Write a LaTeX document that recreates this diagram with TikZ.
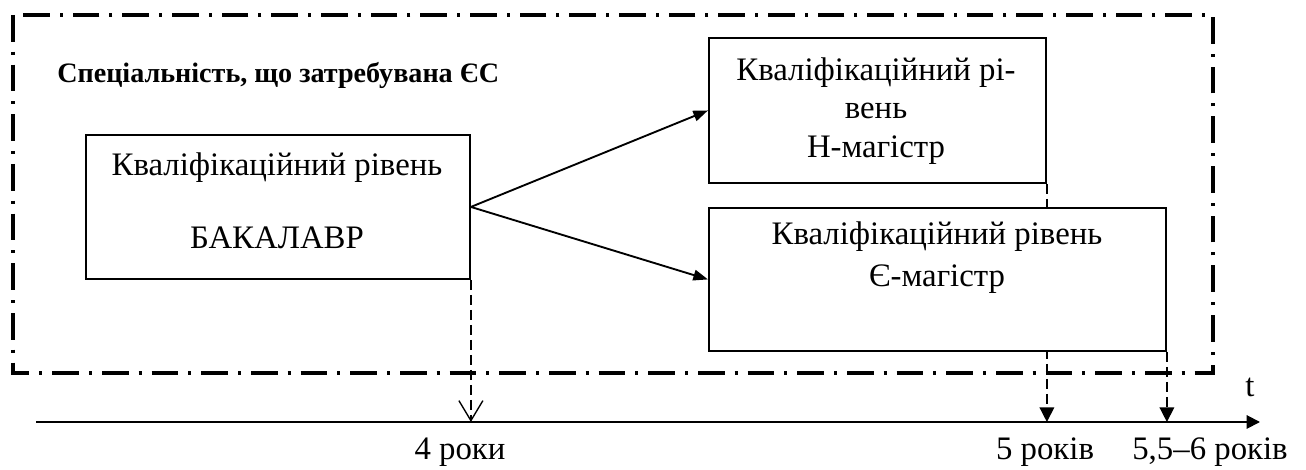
\documentclass[tikz,border=0pt]{standalone}
\usepackage{fontspec}
\setmainfont{Liberation Serif}
\usetikzlibrary{arrows.meta}

\begin{document}
\begin{tikzpicture}[x=0.015cm, y=-0.015cm,
		font=\fontsize{14pt}{16pt}\selectfont,
		box/.style={draw, line width=0.8pt, fill=white, inner sep=0pt, anchor=north west},
		frame/.style={line width=1.4pt, dash pattern=on 0.4cm off 0.15cm on 0.045cm off 0.15cm},
		drop/.style={line width=0.6pt, dash pattern=on 0.15cm off 0.075cm},
		link/.style={line width=0.8pt, -{Triangle[length=0.22cm, width=0.16cm]}}]
		\useasboundingbox (0,0) rectangle (1306,470);
		% Frame of the speciality
		\draw[frame] (13,15) rectangle (1213,373);
		\node[anchor=west, font=\fontsize{12pt}{14pt}\selectfont\bfseries] (spec) at (49,75) {Спеціальність, що затребувана ЄС};
		
		% Time axis
		\coordinate (t0) at (36,422);
		\coordinate (tend) at (1260,422);
		\draw[line width=0.8pt, -{Triangle[length=0.2cm, width=0.2cm]}] (t0) -- (tend);
		\node (t) at (1250,387) {t};
		
		% Levels
		\node[box, minimum width=5.76cm, minimum height=2.16cm] (bak) at (85,134) {};
		\node (bak1) at (277,168) {Кваліфікаційний рівень};
		\node (bak2) at (277,238) {БАКАЛАВР};
		
		\node[box, minimum width=5.055cm, minimum height=2.175cm] (hmag) at (708,37) {};
		\node[align=center, font=\fontsize{14pt}{16.5pt}\selectfont] (hmagtext) at (876,111) {Кваліфікаційний рі-\\вень\\Н-магістр};
		
		\draw[drop, -{Triangle[length=0.22cm, width=0.22cm]}] (hmag.south east) -- (hmag.south east |- t0);
		
		\node[box, minimum width=6.855cm, minimum height=2.145cm] (emag) at (708,207) {};
		\node[align=center, font=\fontsize{14pt}{18pt}\selectfont] (emagtext) at (937,258) {Кваліфікаційний рівень\\Є-магістр};
		
		\draw[link] (bak.east) -- (hmag.west);
		\draw[link] (bak.east) -- (emag.west);
		
		% Durations
		\draw[drop, -{Straight Barb[length=0.3cm, width=0.36cm]}] (bak.south east) -- (bak.south east |- t0);
		\draw[drop, -{Triangle[length=0.22cm, width=0.22cm]}] (emag.south east) -- (emag.south east |- t0);
		
		\node (y4) at (460,452) {4 роки};
		\node (y5) at (1045,452) {5 років};
		\node (y6) at (1210,452) {5,5–6 років};
		
	\end{tikzpicture}
\end{document}
